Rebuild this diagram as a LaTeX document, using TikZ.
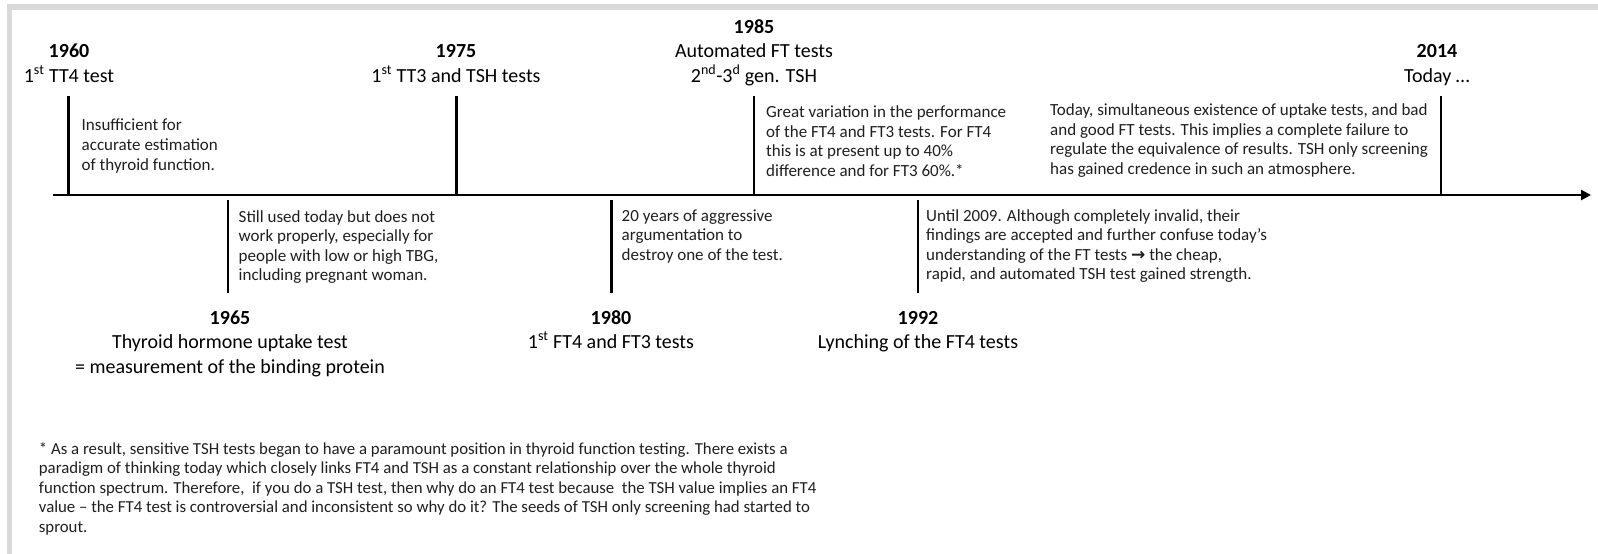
\documentclass[tikz,border=0pt]{standalone}
\usepackage{fontspec}
\setmainfont{Carlito}
\newfontfamily\symfont{DejaVu Sans}
\usetikzlibrary{arrows.meta}
\begin{document}
\begin{tikzpicture}[x=1pt,y=-1pt,
  yearlbl/.style={align=center, font=\fontsize{20}{24.5}\selectfont, inner sep=0pt, anchor=base},
  note/.style={align=left, font=\fontsize{17}{19.6}\selectfont, inner sep=0pt, anchor=base west, text=black!88},
  footnote/.style={align=left, font=\fontsize{16.8}{19.6}\selectfont, inner sep=0pt, anchor=base west, text=black!88},
  tickline/.style={line width=2.6pt},
  axisline/.style={line width=2.8pt, -{Triangle[length=10pt,width=10pt]}},
  framefill/.style={fill=black!15, draw=none}]
\useasboundingbox (0,0) rectangle (1598,554);
\fill[framefill] (7,4) rectangle (1598,9.5);
\fill[framefill] (7,4) rectangle (12,554);

% axis
\coordinate (axstart) at (53,195);
\coordinate (axend) at (1591,195);
\draw[axisline] (axstart) -- (axend);

% ticks above
\coordinate (a1960t) at (68.5,96);  \coordinate (a1960b) at (68.5,193.5);
\coordinate (a1975t) at (456.5,96); \coordinate (a1975b) at (456.5,193.5);
\coordinate (a1985t) at (754,96);   \coordinate (a1985b) at (754,193.5);
\coordinate (a2014t) at (1441,96);  \coordinate (a2014b) at (1441,193.5);
\draw[tickline] (a1960t) -- (a1960b);
\draw[tickline] (a1975t) -- (a1975b);
\draw[tickline] (a1985t) -- (a1985b);
\draw[tickline] (a2014t) -- (a2014b);

% ticks below
\coordinate (b1965t) at (228,200);   \coordinate (b1965b) at (228,292.5);
\coordinate (b1980t) at (611.5,200); \coordinate (b1980b) at (611.5,292.5);
\coordinate (b1992t) at (918,200);   \coordinate (b1992b) at (918,292.5);
\draw[tickline] (b1965t) -- (b1965b);
\draw[tickline] (b1980t) -- (b1980b);
\draw[tickline] (b1992t) -- (b1992b);

% year labels above (base = baseline of last line)
\node[yearlbl] (y1960) at (69,82) {\textbf{1960}\\1\textsuperscript{st} TT4 test};
\node[yearlbl] (y1975) at (456,82) {\textbf{1975}\\1\textsuperscript{st} TT3 and TSH tests};
\node[yearlbl] (y1985) at (754,82) {\textbf{1985}\\Automated FT tests\\2\textsuperscript{nd}-3\textsuperscript{d} gen. TSH};
\node[yearlbl] (y2014) at (1437,82) {\textbf{2014}\\Today …};

% year labels below
\node[yearlbl] (y1965) at (230,373) {\textbf{1965}\\Thyroid hormone uptake test\\= measurement of the binding protein};
\node[yearlbl] (y1980) at (611,348.5) {\textbf{1980}\\1\textsuperscript{st} FT4 and FT3 tests};
\node[yearlbl] (y1992) at (918,348.5) {\textbf{1992}\\Lynching of the FT4 tests};

% notes above
\node[note] (n1960) at (81.5,170) {Insufficient for\\accurate estimation\\of thyroid function.};
\node[note] (n1985) at (766,176.5) {Great variation in the performance\\of the FT4 and FT3 tests. For FT4\\this is at present up to 40\%\\difference and for FT3 60\%.*};
\node[note] (n2014) at (1050,174.5) {Today, simultaneous existence of uptake tests, and bad\\and good FT tests. This implies a complete failure to\\regulate the equivalence of results. TSH only screening\\has gained credence in such an atmosphere.};

% notes below
\node[note] (n1965) at (238.5,280.8) {Still used today but does not\\work properly, especially for\\people with low or high TBG,\\including pregnant woman.};
\node[note] (n1980) at (621.5,260.2) {20 years of aggressive\\argumentation to\\destroy one of the test.};
\node[note] (n1992) at (926,279.8) {Until 2009. Although completely invalid, their\\findings are accepted and further confuse today’s\\understanding of the FT tests {\symfont\bfseries\fontsize{17}{17}\selectfont →} the cheap,\\rapid, and automated TSH test gained strength.};

% footnote
\node[footnote] (foot) at (38.7,532.4) {* As a result, sensitive TSH tests began to have a paramount position in thyroid function testing. There exists a\\paradigm of thinking today which closely links FT4 and TSH as a constant relationship over the whole thyroid\\function spectrum. Therefore,\ \ if you do a TSH test, then why do an FT4 test because\ \ the TSH value implies an FT4\\value – the FT4 test is controversial and inconsistent so why do it? The seeds of TSH only screening had started to\\sprout.};
\end{tikzpicture}
\end{document}
